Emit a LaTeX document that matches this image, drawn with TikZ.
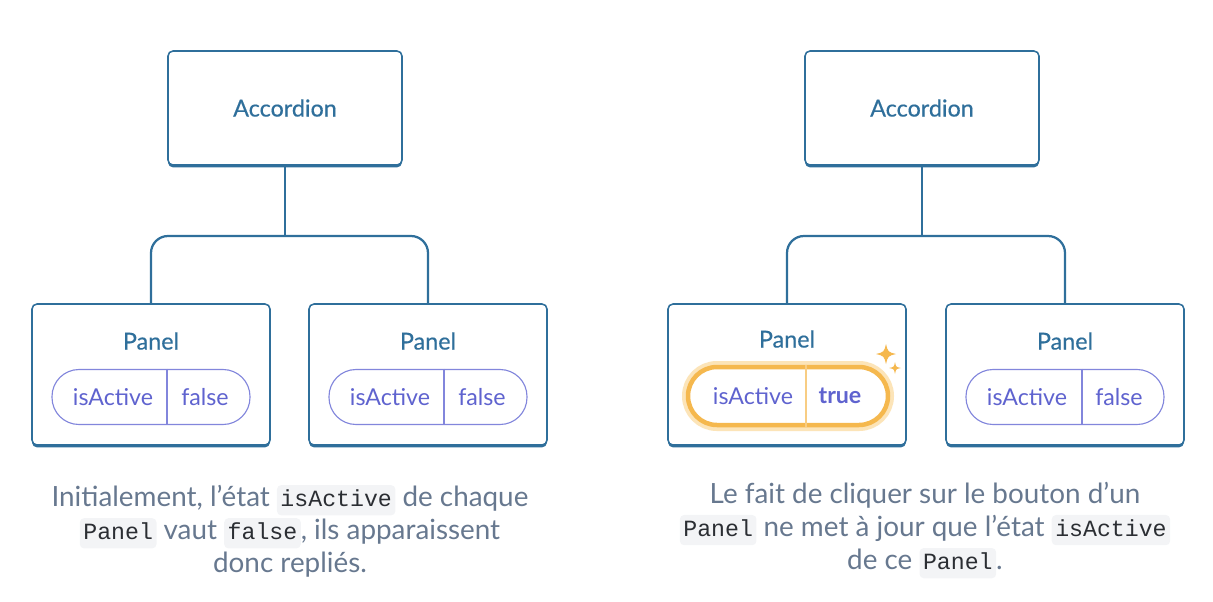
\documentclass[tikz,border=0pt]{standalone}
\usepackage{fontspec}
\setmainfont{Lato}
\setmonofont{Liberation Mono}
\newfontfamily\medfont[FakeBold=0.4]{Lato}
\usetikzlibrary{positioning, shadows}
\definecolor{boxblue}{HTML}{2F6F9B}
\definecolor{pillline}{HTML}{8286DC}
\definecolor{pilltext}{HTML}{5F63CF}
\definecolor{gold}{HTML}{F5B84E}
\definecolor{goldglow}{HTML}{FCE4B8}
\definecolor{capgray}{HTML}{67788F}
\definecolor{codebg}{HTML}{F3F4F6}
\definecolor{codetext}{HTML}{2B2E33}
\newlength\pxl
\setlength\pxl{0.025cm}
\tikzset{
    comp/.style={draw=boxblue, line width=1.1pt, fill=white, rounded corners=5\pxl,
        drop shadow={shadow xshift=0pt, shadow yshift=-2.4\pxl, fill=boxblue, opacity=1}},
    accbox/.style={comp, minimum width=234\pxl, minimum height=114\pxl,
        text=boxblue, font=\medfont\fontsize{16.6}{19}\selectfont},
    panelbox/.style={comp, minimum width=238\pxl, minimum height=141\pxl},
    title/.style={text=boxblue, font=\medfont\fontsize{16.6}{19}\selectfont},
    pill/.style={draw=pillline, line width=0.8pt, fill=white, rounded corners=27\pxl,
        minimum width=198\pxl, minimum height=55\pxl},
    goldpill/.style={draw=gold, line width=4.5\pxl, fill=white, rounded corners=29\pxl,
        minimum width=200\pxl, minimum height=58\pxl,
        preaction={draw=goldglow, line width=12\pxl}},
    field/.style={text=pilltext, font=\fontsize{16.5}{19}\selectfont},
    divider/.style={draw=pillline, line width=0.8pt},
    wire/.style={draw=boxblue, line width=1.6pt, rounded corners=17\pxl},
    caption/.style={text=capgray, align=center, font=\fontsize{19.8}{23.5}\selectfont},
    codebox/.style={fill=codebg, text=codetext, rounded corners=3pt, inner xsep=2.5pt,
        inner ysep=3pt, text height=12pt, text depth=3.5pt,
        font=\ttfamily\fontsize{16.5}{18}\selectfont}
}
\newcommand\code[1]{\tikz[baseline=(cb.base)]\node[codebox] (cb) {#1};}

\begin{document}
\begin{tikzpicture}[x=\pxl, y=-\pxl]
    \useasboundingbox (0,0) rectangle (1213,601);
    % before: both panels collapsed
    \node[accbox] (accL) at (285,108) {Accordion};
    \node[panelbox] (panA) at (151,374.5) {};
    \node[panelbox] (panB) at (428,374.5) {};
    \coordinate (forkL) at (285,236);
    \draw[wire] (accL.south) -- (forkL);
    \draw[wire] (panA.north) |- (forkL) -| (panB.north);
    \node[title] (panAt) at (151,341) {Panel};
    \node[pill] (pillA) at (151,397) {};
    \node[field] (pillAk) at (113,397) {isActive};
    \node[field] (pillAv) at (205,397) {false};
    \draw[divider] (pillA.north -| 167,0) -- (pillA.south -| 167,0);
    \node[title] (panBt) at (428,341) {Panel};
    \node[pill] (pillB) at (428,397) {};
    \node[field] (pillBk) at (390,397) {isActive};
    \node[field] (pillBv) at (482,397) {false};
    \draw[divider] (pillB.north -| 444,0) -- (pillB.south -| 444,0);
    % after: first panel clicked
    \node[accbox] (accR) at (922,108) {Accordion};
    \node[panelbox] (panC) at (787,374.5) {};
    \node[panelbox] (panD) at (1065,374.5) {};
    \coordinate (forkR) at (922,236);
    \draw[wire] (accR.south) -- (forkR);
    \draw[wire] (panC.north) |- (forkR) -| (panD.north);
    \node[title] (panCt) at (787,339) {Panel};
    \node[goldpill] (pillC) at (788,396) {};
    \node[field] (pillCk) at (753,396) {isActive};
    \node[field, font=\fontsize{16.5}{19}\selectfont\bfseries] (pillCv) at (840,396) {true};
    \draw[draw=gold!70, line width=0.8pt] (pillC.north -| 806,0) -- (pillC.south -| 806,0);
    % sparkles
    \fill[gold] (886,344) .. controls (888,352) .. (896,354) .. controls (888,356) .. (886,364)
        .. controls (884,356) .. (876,354) .. controls (884,352) .. cycle;
    \fill[gold] (895,362) .. controls (896,367) .. (901,368) .. controls (896,369) .. (895,374)
        .. controls (894,369) .. (889,368) .. controls (894,367) .. cycle;
    \node[title] (panDt) at (1065,341) {Panel};
    \node[pill] (pillD) at (1065,397) {};
    \node[field] (pillDk) at (1027,397) {isActive};
    \node[field] (pillDv) at (1119,397) {false};
    \draw[divider] (pillD.north -| 1082,0) -- (pillD.south -| 1082,0);
    % captions
    \node[caption] (capL) at (290,531) {Initialement, l’état \code{isActive} de chaque\\
        \code{Panel} vaut \code{false}, ils apparaissent\\ donc repliés.};
    \node[caption] (capR) at (925,530) {Le fait de cliquer sur le bouton d’un\\
        \code{Panel} ne met à jour que l’état \code{isActive}\\ de ce \code{Panel}.};
\end{tikzpicture}
\end{document}
